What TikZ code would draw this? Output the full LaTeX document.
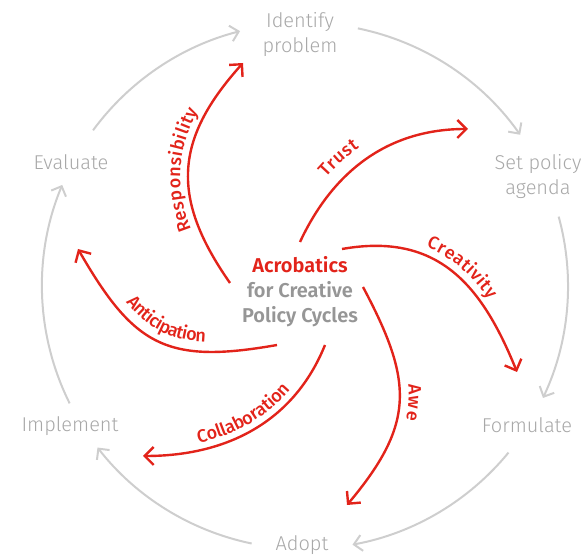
\documentclass[tikz,border=0pt]{standalone}
\usepackage{fontspec}
\setmainfont{Fira Sans Light}
\newfontfamily\labfont{Fira Sans Medium}
\newfontfamily\headfont{Fira Sans SemiBold}
\usetikzlibrary{arrows.meta,decorations.text,calc}

\definecolor{cyclegray}{RGB}{206,206,206}
\definecolor{stagegray}{RGB}{168,168,168}
\definecolor{titlegray}{RGB}{150,150,150}
\definecolor{acrored}{RGB}{226,35,26}

\begin{document}
\begin{tikzpicture}[x=1pt,y=1pt,
  stage/.style={font=\fontsize{20}{25}\selectfont, text=stagegray, align=center, inner sep=0pt},
  cyclearc/.style={draw=cyclegray, line width=2pt, -{Straight Barb[length=8pt,width=16pt]}},
  move/.style={draw=acrored, line width=2.4pt, -{Straight Barb[length=9pt,width=18pt]}},
  movelabel/.style={decorate, decoration={text along path, raise=6pt, text align=center,
      text={|\labfont\fontsize{18}{18}\selectfont\color{acrored}|#1}}},
]
\useasboundingbox (0,0) rectangle (586,556);

% policy cycle
\coordinate (hub) at (305,270);
\node[stage, anchor=north] (identify) at (300,544) {Identify\\problem};
\node[stage, anchor=north] (agenda) at (538,402) {Set policy\\agenda};
\node[stage, anchor=base] (formulate) at (527,123) {Formulate};
\node[stage, anchor=base] (adopt) at (302,5) {Adopt};
\node[stage, anchor=base] (implement) at (70,124) {Implement};
\node[stage, anchor=base] (evaluate) at (71,386) {Evaluate};

\draw[cyclearc] ($(hub)+(143.7:263)$) arc[start angle=143.7, end angle=104.3, radius=263];
\draw[cyclearc] ($(hub)+(78.4:263)$) arc[start angle=78.4, end angle=35.1, radius=263];
\draw[cyclearc] ($(hub)+(15.3:263)$) arc[start angle=15.3, end angle=-25.2, radius=263];
\draw[cyclearc] ($(hub)+(-39.3:263)$) arc[start angle=-39.3, end angle=-79.6, radius=263];
\draw[cyclearc] ($(hub)+(-101.7:263)$) arc[start angle=-101.7, end angle=-142.1, radius=263];
\draw[cyclearc] ($(hub)+(-153.5:263)$) arc[start angle=-153.5, end angle=-202.6, radius=263];

% centre title
\node[align=center, inner sep=0pt, text=titlegray, font=\headfont\fontsize{20}{25}\selectfont]
  (title) at (300,264) {\textcolor{acrored}{Acrobatics}\\for Creative\\Policy Cycles};

% acrobatic moves
\coordinate (resS) at (230,273);   \coordinate (resE) at (243,493);
\coordinate (truS) at (300,314);   \coordinate (truE) at (468,427);
\coordinate (creS) at (342,307);   \coordinate (creE) at (517,184);
\coordinate (aweS) at (363,269);   \coordinate (aweE) at (347,51);
\coordinate (colS) at (325,211);   \coordinate (colE) at (143,100);
\coordinate (antS) at (277,211);   \coordinate (antE) at (78,307);

\draw[move] (resS) to[out=125,in=-132,looseness=1.2] (resE);
\path[movelabel=Responsibility, decoration={raise=8pt}] (resS) to[out=125,in=-132,looseness=1.2] (resE);

\draw[move] (truS) to[out=65,in=180] (truE);
\path[movelabel=Trust, decoration={raise=13pt, text align={left, left indent=66pt}}] (truS) to[out=65,in=180] (truE);

\draw[move] (creS) to[out=10,in=112,looseness=1.15] (creE);
\path[movelabel=Creativity, decoration={raise=8pt, text align={left, left indent=82pt}}] (creS) to[out=10,in=112,looseness=1.15] (creE);

\draw[move] (aweS) to[out=-62,in=50,looseness=1.25] (aweE);
\path[movelabel=Awe, decoration={raise=9pt, text align={left, left indent=105pt}}] (aweS) to[out=-62,in=50,looseness=1.25] (aweE);

\draw[move] (colS) to[out=-112,in=0] (colE);
\path[movelabel=Collaboration, decoration={raise=7pt}] (colE) to[out=0,in=-112] (colS);

\draw[move] (antS) to[out=190,in=-60,looseness=1.3] (antE);
\path[movelabel=Anticipation, decoration={raise=10pt}] (antE) to[out=-60,in=190,looseness=1.3] (antS);
\end{tikzpicture}
\end{document}
